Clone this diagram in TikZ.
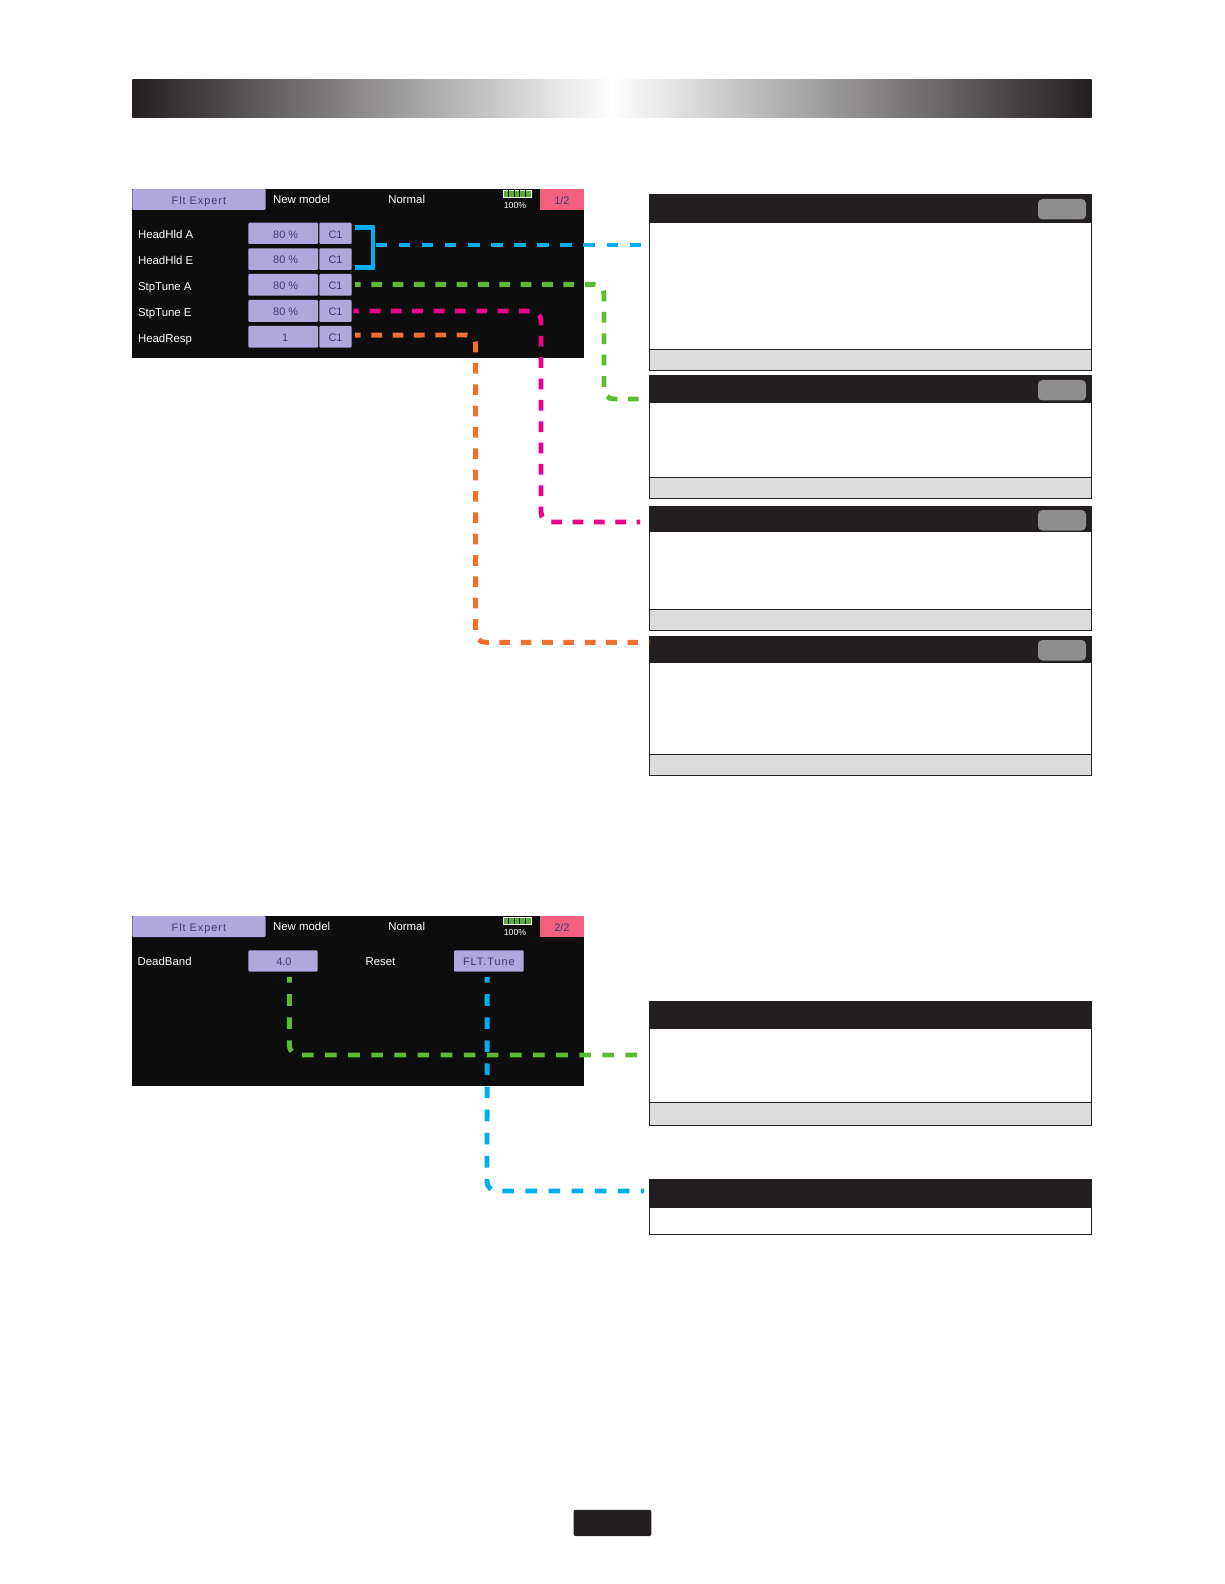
\documentclass[tikz,border=0pt]{standalone}
\usepackage{fontspec}
\setmainfont{Liberation Sans}
\newfontfamily\widefont[LetterSpace=9]{Liberation Sans}
\definecolor{scrbg}{HTML}{0D0D0D}
\definecolor{lav}{HTML}{B0A8DC}
\definecolor{lavtxt}{HTML}{3F3A78}
\definecolor{tabred}{HTML}{F2607F}
\definecolor{hdr}{HTML}{231F20}
\definecolor{foot}{HTML}{DCDCDC}
\definecolor{btn}{HTML}{8E8E8E}
\definecolor{cblue}{HTML}{00AEEF}
\definecolor{cgreen}{HTML}{5DBB32}
\definecolor{cmag}{HTML}{EC008C}
\definecolor{corange}{HTML}{F36F2E}
\definecolor{battg}{HTML}{55B032}
\tikzset{
  x=0.02cm,y=-0.02cm,
  flat/.style={draw=none,inner sep=0pt,outer sep=0pt},
  scrbox/.style={flat,fill=scrbg},
  lavbox/.style={flat,fill=lav,rounded corners=0.6pt,text=lavtxt,text height=5.4pt,text depth=0pt,font=\fontsize{6.2}{7}\selectfont},
  redbox/.style={flat,fill=tabred,text=lavtxt,text height=5.4pt,text depth=0pt,font=\fontsize{6.2}{7}\selectfont},
  panelbody/.style={flat,fill=white,draw=hdr,line width=0.55pt},
  panelhead/.style={flat,fill=hdr},
  panelfoot/.style={flat,fill=foot,draw=hdr,line width=0.55pt},
  panelbtn/.style={flat,fill=btn,rounded corners=2.5pt},
  pageTab/.style={flat,fill=hdr,rounded corners=1.2pt},
  whitetxt/.style={inner sep=0pt,text=white,font=\fontsize{6.5}{7}\selectfont},
  smalltxt/.style={inner sep=0pt,text=white,font=\fontsize{5}{6}\selectfont},
  conn/.style={line width=2.8pt,rounded corners=5.5pt,dash pattern=on 6.1pt off 6.05pt},
  longdash/.style={dash pattern=on 6.6pt off 6.55pt},
  batt/.style={flat,fill=battg,draw=white,line width=0.4pt},
}
\newcommand{\bx}[6]{\node[#1,minimum width={(#4-#2)*0.02cm},minimum height={(#5-#3)*0.02cm}] (#6) at ({(#2+#4)/2},{(#3+#5)/2}) {};}
\newcommand{\bxt}[7]{\node[#1,minimum width={(#4-#2)*0.02cm},minimum height={(#5-#3)*0.02cm}] (#6) at ({(#2+#4)/2},{(#3+#5)/2}) {#7};}
\newcommand{\panel}[5]{%
  \bx{panelbody}{649.4}{#2}{1091.7}{#4}{#1body}
  \bx{panelhead}{649.4}{#2}{1091.7}{#3}{#1head}
  \ifx&#5&\else\bx{panelfoot}{649.4}{#5}{1091.7}{#4}{#1foot}\fi
}
\begin{document}
\begin{tikzpicture}
\useasboundingbox (0,0) rectangle (1224,1584);
\fill[white] (0,0) rectangle (1224,1584);
% title bar
\shade[left color=hdr,right color=white] (132.3,79.2) rectangle (612,117.8);
\shade[left color=white,right color=hdr] (612,79.2) rectangle (1091.7,117.8);
% screen 1
\bx{scrbox}{132.3}{188.9}{583.7}{358.5}{screenA}
\bxt{lavbox}{132.3}{188.9}{265.5}{210}{tabA}{\widefont Flt Expert}
\bxt{redbox}{540}{188.9}{583.7}{210}{pageA}{1/2}
\node[whitetxt,anchor=west] (modelA) at (272.7,199.3) {New model};
\node[whitetxt] (condA) at (406.7,199.3) {Normal};
\bx{batt}{503}{190}{531}{197.5}{battA}
\foreach \i in {1,...,4} \draw[black,line width=0.5pt] ({503+5.6*\i},190.5) -- ({503+5.6*\i},197);
\node[smalltxt] (pctA) at (515,205.7) {100\%};
\node[whitetxt,anchor=base west] (la) at (137.7,238.8) {HeadHld A};
\node[whitetxt,anchor=base west] (lb) at (137.7,264.4) {HeadHld E};
\node[whitetxt,anchor=base west] (lc) at (137.7,290.4) {StpTune A};
\node[whitetxt,anchor=base west] (ld) at (137.7,316.4) {StpTune E};
\node[whitetxt,anchor=base west] (le) at (137.7,342.4) {HeadResp};
\bxt{lavbox}{248.3}{222.7}{318}{244}{va}{\hspace{2.8pt}80 \%}
\bxt{lavbox}{248.3}{248.3}{318}{270}{vb}{\hspace{2.8pt}80 \%}
\bxt{lavbox}{248.3}{274}{318}{295.7}{vc}{\hspace{2.8pt}80 \%}
\bxt{lavbox}{248.3}{300}{318}{322}{vd}{\hspace{2.8pt}80 \%}
\bxt{lavbox}{248.3}{326}{318}{347.7}{ve}{\hspace{2.4pt}1}
\bxt{lavbox}{319.3}{222.7}{351.7}{244}{ca}{C1}
\bxt{lavbox}{319.3}{248.3}{351.7}{270}{cb}{C1}
\bxt{lavbox}{319.3}{274}{351.7}{295.7}{cc}{C1}
\bxt{lavbox}{319.3}{300}{351.7}{322}{cd}{C1}
\bxt{lavbox}{319.3}{326}{351.7}{347.7}{ce}{C1}
% panels
\panel{p1}{194.9}{223.2}{370.6}{349.4}
\panel{p2}{375.7}{403}{498.9}{477.7}
\panel{p3}{506}{532.2}{630.2}{609}
\panel{p4}{636.2}{662.5}{775.6}{754.4}
\bx{panelbtn}{1038}{199}{1086}{219.5}{p1btn}
\bx{panelbtn}{1038}{380}{1086}{400.5}{p2btn}
\bx{panelbtn}{1038}{510}{1086}{530.5}{p3btn}
\bx{panelbtn}{1038}{640}{1086}{660.5}{p4btn}
% screen 2
\bx{scrbox}{132.3}{916}{583.7}{1085.6}{screenB}
\bxt{lavbox}{132.3}{916}{265.5}{937}{tabB}{\widefont Flt Expert}
\bxt{redbox}{540}{916}{583.7}{937}{pageB}{2/2}
\node[whitetxt,anchor=west] (modelB) at (272.7,926) {New model};
\node[whitetxt] (condB) at (406.7,926) {Normal};
\bx{batt}{503}{917}{531}{924.5}{battB}
\foreach \i in {1,...,4} \draw[black,line width=0.5pt] ({503+5.6*\i},917.5) -- ({503+5.6*\i},924);
\node[smalltxt] (pctB) at (515,932.7) {100\%};
\node[whitetxt,anchor=base west] (lf) at (137.3,965.5) {DeadBand};
\node[whitetxt] (lg) at (380.5,962) {Reset};
\bxt{lavbox}{248.4}{950.3}{317.6}{971.6}{vf}{\hspace{1pt}4.0}
\bxt{lavbox}{454}{950.3}{523.7}{971.6}{vg}{\widefont FLT.Tune}
\panel{p5}{1001.8}{1029}{1125}{1102.8}
\panel{p6}{1179.6}{1207.8}{1234}{}
% page tab
\bx{pageTab}{573.6}{1509.8}{651.4}{1536}{pagenum}
% connector coordinates
\coordinate (bkA) at (355,227.3);
\coordinate (bkB) at (355,267.7);
\coordinate (bkC) at (373,227.3);
\coordinate (bkD) at (373,267.7);
\coordinate (blS) at (375.5,245);
\coordinate (blE) at (642,245);
\coordinate (grT) at (604,284.3);
\coordinate (grB) at (604,399);
\coordinate (grE) at (641,399);
\coordinate (mgT) at (541,311);
\coordinate (mgB) at (541,522);
\coordinate (mgE) at (640,522);
\coordinate (orT) at (475.7,335);
\coordinate (orB) at (475.7,642.3);
\coordinate (orE) at (649.4,642.3);
\coordinate (dbC) at (289.3,1055);
\coordinate (dbE) at (644,1055);
\coordinate (ftC) at (487,1191);
\coordinate (ftE) at (644,1191);
% connectors
\draw[cblue,line width=2.8pt,line join=miter] (bkA) -- (bkC) -- (bkD) -- (bkB);
\draw[cblue,conn,longdash] (blS) -- (blE);
\draw[cgreen,conn,dash phase=3pt] ([xshift=2pt,yshift=0.3pt]cc.east) -- (grT) -- (grB) -- (grE);
\draw[cmag,conn,dash phase=3pt] ([xshift=1pt]cd.east) -- (mgT) -- (mgB) -- (mgE);
\draw[corange,conn,dash phase=3pt] ([xshift=2pt,yshift=1pt]ce.east) -- (orT) -- (orB) -- (orE);
\draw[cgreen,conn,longdash,dash phase=3.3pt] ([xshift=3.6pt,yshift=-3pt]vf.south) -- (dbC) -- (dbE);
\draw[cblue,conn,longdash,dash phase=3.3pt] ([xshift=-1pt,yshift=-3pt]vg.south) -- (ftC) -- (ftE);
\end{tikzpicture}
\end{document}
